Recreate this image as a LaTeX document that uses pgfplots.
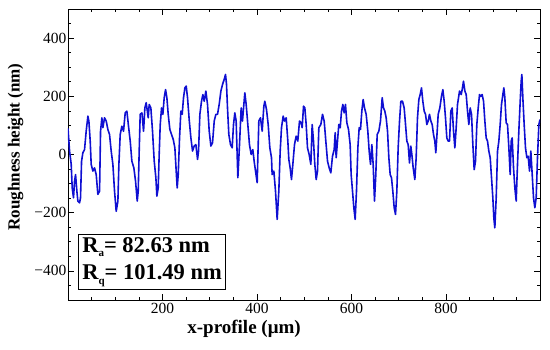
\documentclass[border=0pt]{standalone}
\usepackage{pgfplots}
\pgfplotsset{compat=1.18}
\usepackage{fontspec}
\setmainfont{Liberation Serif}
\definecolor{lineblue}{RGB}{15,15,210}
\begin{document}
\begin{tikzpicture}
\begin{axis}[
  scale only axis,
  width=472pt, height=291pt,
  xmin=0, xmax=999, ymin=-500, ymax=500,
  axis line style={line width=0.9pt},
  tick style={line width=0.7pt, black},
  tick align=inside,
  major tick length=6pt, minor tick length=3.5pt,
  xtick={200,400,600,800},
  xticklabels={200,400,600,800},
  minor xtick={50,100,...,950},
  ytick={-400,-200,0,200,400},
  yticklabels={−400,−200,0,200,400},
  minor ytick={-450,-400,...,450},
  ticklabel style={font=\fontsize{15.5}{18}\selectfont},
  yticklabel style={inner xsep=1.5pt},
  xticklabel style={inner ysep=3pt},
  xlabel={\bfseries x-profile (μm)},
  ylabel={\bfseries Roughness height (nm)},
  xlabel style={font=\fontsize{19}{22}\selectfont, at={(rel axis cs:0.373,0)}, anchor=north, yshift=-17pt},
  ylabel style={font=\fontsize{17}{20}\selectfont, at={([xshift=-41pt]rel axis cs:0,0.526)}, anchor=south},
]
\addplot[color=lineblue, line width=1.6pt, line join=round] coordinates {
(0,90) (3.3,12) (6.8,-34) (8.9,-115) (11.7,-149) (13.8,-92) (16,-69) (18.8,-126) (20.9,-160) (24.4,-166) (26.5,-149) (28.7,-23) (31.5,6) (35,17) (38.5,80) (42.1,132) (44.2,115) (47,46) (49.1,-34) (52.6,-57) (56.2,-46) (59.7,-69) (63.2,-137) (66.8,-126) (68.9,80) (71.7,126) (73.8,92) (77.3,126) (80.9,115) (84.4,86) (87.9,69) (91.4,12) (95,-34) (98.5,-126) (102,-195) (105.6,-160) (107.7,-34) (110.5,69) (114,97) (117.5,80) (121.1,143) (124.6,149) (128.1,97) (131.7,46) (135.2,-23) (139.4,-46) (143,-92) (146.5,-160) (148.6,-126) (150.7,12) (152.8,138) (156.4,143) (159.9,80) (162.7,160) (165.5,178)
(167,160) (169.8,126) (171.9,172) (175.4,160) (178.9,80) (182.5,-23) (186,-80) (188.1,-143) (190.9,-115) (193,0) (195.2,103) (198,160) (200.8,138) (203.6,195) (206.5,223) (209.3,195) (212.1,138) (215.6,86) (219.1,69) (222.7,52) (226.2,23) (229,-57) (231.1,-115) (233.3,-69) (236.1,57) (238.9,149) (241.7,138) (244.5,195) (247.4,229) (250.2,235) (253,195) (256.5,120) (260.1,57) (263.6,12) (267.1,29) (270.7,34) (274.2,-17) (276.3,12) (279.1,138) (282.6,183) (285.5,206) (288.3,183) (291.8,218) (295.3,172) (298.9,80) (302.4,29) (305.9,40) (309.5,115) (313,138) (316.5,138) (320,172) (323.6,218) (327.1,241) (330.6,258)
(333.4,275) (335.5,241) (337.6,160) (340.4,69) (344,34) (347.5,23) (350.3,103) (353.1,143) (355.9,115) (359.5,-80) (363,34) (366.5,160) (369.3,115) (372.2,172) (374.3,212) (377.1,172) (380.6,103) (384.1,34) (387.7,0) (391.2,17) (394,-23) (396.9,-57) (400.4,-97) (403.9,115) (407.4,126) (411,80) (414.5,166) (416.6,183) (420.1,155) (423.7,103) (427.2,23) (430.7,-11) (432.1,-69) (435.7,-57) (439.2,-126) (442.7,-223) (446.2,-126) (449.1,12) (451.9,92) (455.4,132) (458.2,115) (461.8,126) (465.3,46) (467.4,-17) (470.2,-46) (473,-86) (475.9,-34) (479.4,34) (482.9,63) (486.4,46) (490,115) (493.5,109) (495.6,92)
(498.5,166) (501.3,160) (504.1,103) (506.9,23) (510.4,0) (514,-34) (516.8,103) (519.6,46) (522.4,-34) (525.3,-86) (528.1,-57) (530.9,92) (535.1,103) (538.7,138) (542.2,115) (545.7,46) (549.3,-23) (552.8,-46) (556.3,-63) (559.8,-6) (563.4,17) (565.5,75) (567.6,-11) (570.4,46) (573.2,103) (576.1,92) (578.9,149) (581.7,172) (584.5,143) (587.3,172) (590.2,109) (593.7,86) (597.2,34) (599.3,-69) (602.2,-126) (605,-183) (607.8,-223) (610.6,-126) (613.5,23) (616.3,92) (619.1,86) (621.9,149) (624.7,189) (627.6,160) (631.1,138) (634.6,80) (637.4,12) (640.3,-34) (643.1,34) (645.9,-34) (648.7,-160) (651.5,-69) (654.4,69) (657.9,80)
(661.4,115) (665,195) (667.8,160) (670.6,149) (673.4,126) (676.3,80) (679.1,-11) (681.9,-69) (684.7,-80) (687.5,-126) (690.4,-183) (693.2,-206) (696,-126) (698.8,23) (701.7,115) (704.5,183) (708,183) (711.5,160) (714.4,103) (717.2,46) (720,34) (722.8,-29) (725.6,29) (727.8,0) (730.6,-46) (734.1,-86) (736.9,-11) (739.7,126) (742.6,189) (745.4,206) (748.2,229) (751,183) (753.9,149) (756.7,138) (759.5,103) (762.3,115) (765.1,138) (768,115) (770.8,103) (773.6,69) (776.4,46) (778.5,6) (781.4,80) (783.5,138) (787,160) (790.5,200) (793.4,223) (796.2,183) (799,126) (801.8,57) (804.7,46) (807.5,46) (810.3,149) (813.1,160) (816,80) (818.8,23) (821.6,92) (824.4,172)
(828.7,218) (832.2,206) (834.3,223) (837.1,252) (840,218) (842.8,206) (845.6,149) (848.4,103) (851.2,160) (854.1,138) (856.9,34) (859.7,-52) (862.5,-23) (865.3,103) (868.2,160) (871,206) (873.8,200) (876.6,206) (879.5,183) (882.3,115) (885.1,57) (887.9,46) (890.7,12) (893.6,-11) (896.4,-80) (899.2,-149) (901.3,-218) (903.4,-252) (906.3,-149) (909.1,12) (911.9,46) (914.7,103) (917.5,172) (920.4,206) (922.5,229) (924.6,195) (927.4,109) (930.2,103) (933.1,23) (935.9,-69) (938,46) (940.1,57) (943,-46) (945.8,-115) (948.6,-160) (951.4,-34) (954.2,80) (957.1,183) (959.2,252) (960.6,275) (962.7,195) (965.5,103) (968.3,23) (971.2,-11) (974,-6) (976.8,-57) (979.6,12) (982.5,-69) (985.3,-149) (988.1,-183) (990.9,-149) (993.7,-11) (996.6,103) (999,120)
};
\node[draw, line width=0.8pt, fill=white, anchor=south west, align=left,
      inner xsep=4pt, inner ysep=3pt,
      font=\fontsize{22.5}{27.5}\selectfont\bfseries]
  at (rel axis cs:0.021,0.034)
  {R\raisebox{-0.45ex}{\fontsize{11}{12}\selectfont a}= 82.63 nm\\
   R\raisebox{-0.45ex}{\fontsize{11}{12}\selectfont q}= 101.49 nm};
\end{axis}
\path ([shift={(-68pt,-49pt)}]current axis.south west) rectangle ([shift={(10pt,9pt)}]current axis.north east);
\end{tikzpicture}
\end{document}
